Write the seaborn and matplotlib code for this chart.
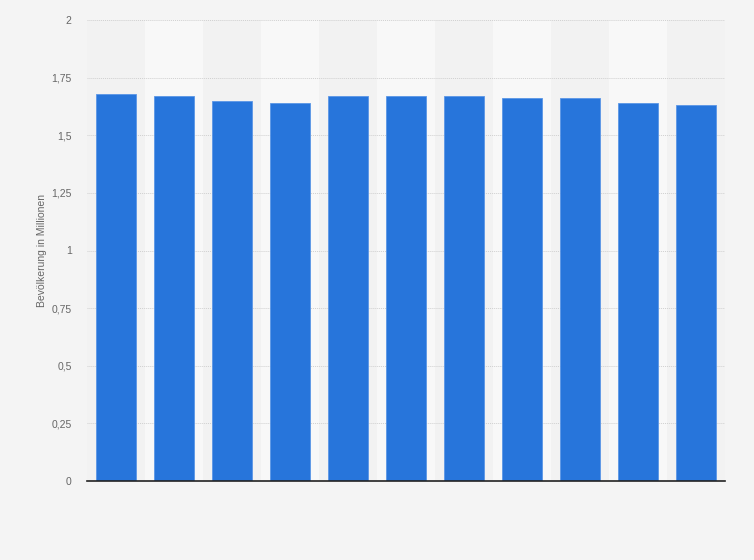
import numpy as np
import pandas as pd
import matplotlib
matplotlib.use('Agg')
import matplotlib.pyplot as plt
import seaborn as sns

# data (category labels not shown in the reference)
kategorien = ['1', '2', '3', '4', '5', '6', '7', '8', '9', '10', '11']
bevoelkerung = [1.68, 1.67, 1.65, 1.64, 1.67, 1.67, 1.67, 1.66, 1.66, 1.64, 1.63]
yticks = [0, 0.25, 0.5, 0.75, 1, 1.25, 1.5, 1.75, 2]
ytick_labels = ['0', '0,25', '0,5', '0,75', '1', '1,25', '1,5', '1,75', '2']

df = pd.DataFrame({'kat': kategorien, 'wert': bevoelkerung})

sns.set_style('white')
plt.rcParams['font.family'] = ['Liberation Sans', 'DejaVu Sans']

fig = plt.figure(figsize=(7.54, 5.6), dpi=100, facecolor='#f4f4f4')
ax = fig.add_axes([87 / 754, 79 / 560, 638 / 754, 461 / 560])
ax.set_facecolor('#f2f2f2')

# alternating column shading
for i in range(len(kategorien)):
    if i % 2 == 1:
        ax.axvspan(i - 0.5, i + 0.5, color='#f8f8f8', zorder=0, lw=0)

sns.barplot(data=df, x='kat', y='wert', color='#2775db', saturation=1,
            width=0.69, edgecolor='#5a96e6', linewidth=0.6, ax=ax, zorder=3)

ax.set_xlim(-0.5, len(kategorien) - 0.5)
ax.set_ylim(0, 2)
ax.set_yticks(yticks)
ax.set_yticklabels(ytick_labels)
ax.yaxis.grid(True, color='#d0d0d0', linestyle=(0, (1, 1)), linewidth=0.7, zorder=1)
ax.set_axisbelow(True)
ax.tick_params(axis='y', length=0, pad=11, labelsize=7.5, labelcolor='#666666')
ax.set_xticks([])
ax.set_xlabel('')
ax.set_ylabel('Bevölkerung in Millionen', fontsize=7.5, color='#666666', labelpad=3)

for s in ['top', 'right', 'left']:
    ax.spines[s].set_visible(False)
ax.spines['bottom'].set_color('#222222')
ax.spines['bottom'].set_linewidth(1.2)
ax.spines['bottom'].set_zorder(5)

fig.savefig('out.png', dpi=100, facecolor=fig.get_facecolor())
